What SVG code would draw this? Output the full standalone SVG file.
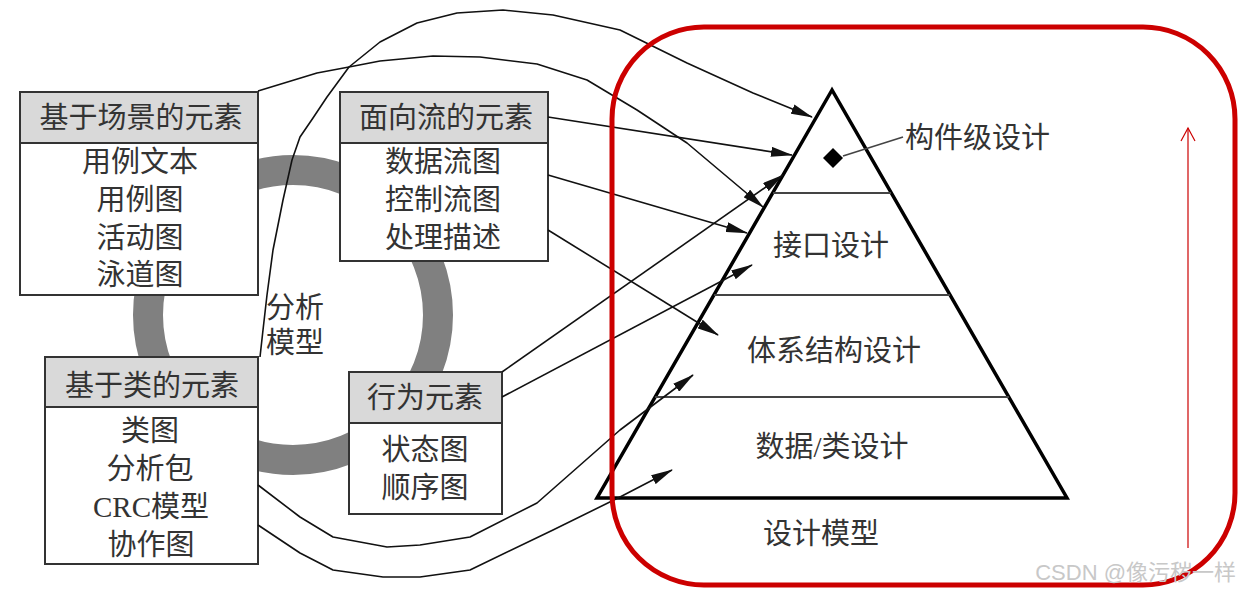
<svg xmlns="http://www.w3.org/2000/svg" width="1240" height="591" viewBox="0 0 1240 591">
<defs>
<style>
.box{fill:#fff;stroke:#333;stroke-width:2}
.hdr{fill:#d9d9d9;stroke:#333;stroke-width:2}
.t{font-family:"Liberation Serif","Noto Sans CJK SC",serif;font-size:29px;fill:#333;text-anchor:middle;dominant-baseline:central}
.conn{fill:none;stroke:#111;stroke-width:1.6;stroke-linejoin:round;marker-end:url(#ah)}
.layer{stroke:#444;stroke-width:2}
</style>
<marker id="ah" markerUnits="userSpaceOnUse" markerWidth="22" markerHeight="10" refX="21" refY="5" orient="auto">
<path d="M0,0 L22,5 L0,10 z" fill="#111"/>
</marker>
</defs>
<rect width="1240" height="591" fill="#fff"/>

<g id="ring">
<circle cx="293" cy="315" r="145" fill="none" stroke="#808080" stroke-width="30"/>
</g>

<g id="pyramid">
<polygon points="832,90 597,498 1067,498" fill="#fff" stroke="#000" stroke-width="3.5" stroke-linejoin="miter"/>
<line class="layer" x1="773" y1="193" x2="891" y2="193"/>
<line class="layer" x1="714" y1="295" x2="950" y2="295"/>
<line class="layer" x1="655" y1="397" x2="1009" y2="397"/>
<polygon points="833,148 843,158 833,168 823,158" fill="#000"/>
<line x1="843" y1="156" x2="903" y2="137" stroke="#444" stroke-width="1.6"/>
<text class="t" x="905" y="138" style="text-anchor:start">构件级设计</text>
<text class="t" x="831" y="246">接口设计</text>
<text class="t" x="834" y="351">体系结构设计</text>
<text class="t" x="832" y="447">数据/类设计</text>
<text class="t" x="821" y="534">设计模型</text>
</g>

<g id="node-scenario">
<rect class="box" x="20" y="92" width="238" height="203"/>
<rect class="hdr" x="20" y="92" width="238" height="51"/>
<text class="t" x="141" y="118">基于场景的元素</text>
<text class="t" x="140" y="162">用例文本</text>
<text class="t" x="140" y="200">用例图</text>
<text class="t" x="140" y="238">活动图</text>
<text class="t" x="140" y="275">泳道图</text>
</g>

<g id="node-flow">
<rect class="box" x="340" y="92" width="208" height="169"/>
<rect class="hdr" x="340" y="92" width="208" height="51"/>
<text class="t" x="446" y="118">面向流的元素</text>
<text class="t" x="443" y="162">数据流图</text>
<text class="t" x="443" y="200">控制流图</text>
<text class="t" x="443" y="238">处理描述</text>
</g>

<g id="node-class">
<rect class="box" x="45" y="357" width="213" height="207"/>
<rect class="hdr" x="45" y="357" width="213" height="50"/>
<text class="t" x="152" y="386">基于类的元素</text>
<text class="t" x="150" y="431">类图</text>
<text class="t" x="150" y="469">分析包</text>
<text class="t" x="151" y="507">CRC模型</text>
<text class="t" x="151" y="545">协作图</text>
</g>

<g id="node-behavior">
<rect class="box" x="349" y="372" width="153" height="142"/>
<rect class="hdr" x="349" y="372" width="153" height="51"/>
<text class="t" x="425" y="398">行为元素</text>
<text class="t" x="425" y="450">状态图</text>
<text class="t" x="425" y="488">顺序图</text>
</g>

<g id="label-analysis">
<text class="t" x="295" y="308">分析</text>
<text class="t" x="295" y="343">模型</text>
</g>

<g id="connectors">
<path class="conn" d="M258,91 L317,73 L349,67 L380,61 L433,56 L480,57 L537,64 L587,80 L637,110 L687,143 L763,207"/>
<path class="conn" d="M260,357 L263,330 L267,295 L273,250 L283,200 L292,160 L300,137 L313,118 L327,97 L349,67 L380,42 L417,23 L457,13 L503,10 L553,15 L620,30 L687,63 L753,93 L812,117"/>
<path class="conn" d="M548,117 L792,155"/>
<path class="conn" d="M548,175 L747,233"/>
<path class="conn" d="M548,230 L718,335"/>
<path class="conn" d="M502,372 L783,175"/>
<path class="conn" d="M502,397 L752,265"/>
<path class="conn" d="M258,485 L300,517 L333,537 L387,547 L420,545 L470,537 L537,503 L620,430 L693,375"/>
<path class="conn" d="M258,525 L300,553 L333,570 L383,577 L420,577 L470,570 L553,530 L620,497 L672,470"/>
</g>

<g id="highlight">
<rect x="612" y="27" width="623" height="558" rx="92" ry="92" fill="none" stroke="#cc0000" stroke-width="5"/>
<line x1="1188" y1="548" x2="1188" y2="128" stroke="#cc0000" stroke-width="1.2"/>
<polyline points="1181,141 1188,128 1195,141" fill="none" stroke="#cc0000" stroke-width="1.2"/>
</g>

<text x="1236" y="580" style="font-family:'Liberation Sans','Noto Sans CJK SC',sans-serif;font-size:22px;fill:#c8c8c8;text-anchor:end">CSDN @像污秽一样</text>
</svg>
